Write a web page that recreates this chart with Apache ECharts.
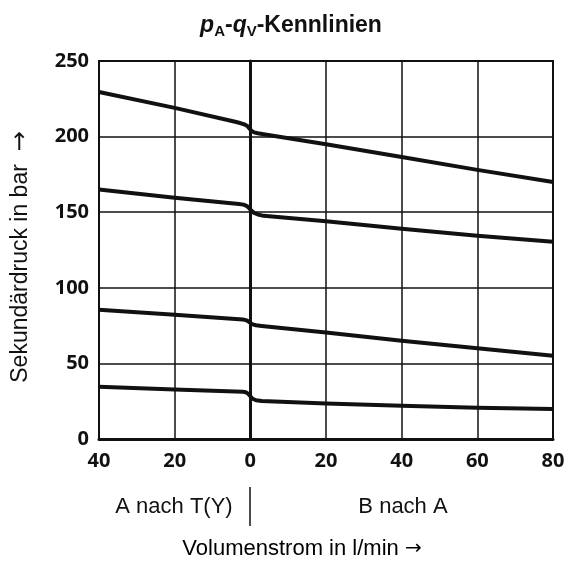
<!DOCTYPE html>
<html>
<head>
<meta charset="utf-8">
<script src="https://cdn.jsdelivr.net/npm/echarts@6/dist/echarts.min.js"></script>
<style>
  html, body { margin: 0; padding: 0; background: #fff; }
  #chart { width: 568px; height: 563px; }
</style>
</head>
<body>
<div id="chart"></div>
<script>
// Kennlinien-Daten (x: Volumenstrom, negativ = A nach T(Y))
var curve1X = [-40, -20, -4, -2.5, -1.5, -0.8, -0.3, 0.3, 1, 2, 3.5, 20, 40, 60, 80];
var curve1Y = [229.5, 219, 209.8, 208.8, 208, 207, 205.5, 203.8, 202.8, 202.2, 201.6, 195, 186.5, 178, 170];
var curve2X = [-40, -20, -3, -1.8, -1, -0.4, 0.2, 1, 2, 3.5, 20, 40, 60, 80];
var curve2Y = [165, 159.5, 155.4, 155, 154.2, 153, 151.2, 149.5, 148.5, 147.6, 144, 139, 134.5, 130.5];
var curve3X = [-40, -20, -2, -1.2, -0.6, 0, 0.6, 1.5, 3, 20, 40, 60, 80];
var curve3Y = [85.5, 82.2, 79, 78.6, 78, 76.8, 75.8, 75.2, 74.8, 70.5, 65, 60, 55];
var curve4X = [-40, -20, -2, -1.2, -0.6, 0, 0.6, 1.5, 3, 20, 40, 60, 80];
var curve4Y = [34.6, 32.8, 31.3, 30.9, 30, 28.3, 26.6, 25.6, 25.2, 23.5, 22, 20.7, 19.8];

var fontBold = '"Open Sans", "Liberation Sans", sans-serif';
var fontReg = '"Liberation Sans", Arial, sans-serif';
var fontArrow = '"DejaVu Sans", sans-serif';

function zip(xs, ys) {
  return xs.map(function (x, i) { return [x, ys[i]]; });
}

function makeLine(xs, ys) {
  return {
    type: 'line',
    data: zip(xs, ys),
    symbol: 'none',
    smooth: false,
    lineStyle: { color: '#111', width: 4, join: 'round', cap: 'butt' },
    z: 5
  };
}

var chart = echarts.init(document.getElementById('chart'));

var option = {
  animation: false,
  title: {
    left: 286,
    top: 8,
    textAlign: 'center',
    text: '{i|p}{s|A}{b|-}{i|q}{s|V}{b|-Kennlinien}',
    textStyle: {
      rich: {
        i: { fontFamily: fontReg, fontSize: 23, fontWeight: 'bold', fontStyle: 'italic', color: '#111' },
        b: { fontFamily: fontReg, fontSize: 23, fontWeight: 'bold', color: '#111' },
        s: { fontFamily: fontReg, fontSize: 15, fontWeight: 'bold', color: '#111', verticalAlign: 'bottom', padding: [11, 0, 0, 0] }
      }
    }
  },
  grid: {
    left: 99, right: 15, top: 61, bottom: 124,
    show: true,
    borderColor: '#111',
    borderWidth: 2
  },
  xAxis: {
    type: 'value',
    min: -40, max: 80, interval: 20,
    axisLine: { show: true, onZero: false, lineStyle: { color: '#111', width: 3 } },
    axisTick: { show: false },
    splitLine: { show: true, lineStyle: { color: '#111', width: 1.5 } },
    axisLabel: {
      margin: 12,
      color: '#111',
      fontFamily: fontBold,
      fontWeight: 'bold',
      fontSize: 20,
      formatter: function (v) { return String(Math.abs(v)); }
    }
  },
  yAxis: {
    type: 'value',
    min: 0, max: 250, interval: 50,
    name: '{t|Sekundärdruck in bar  }{a|→}',
    nameLocation: 'middle',
    nameGap: 66,
    nameTextStyle: {
      padding: [0, 14, 0, 0],
      rich: {
        t: { fontFamily: fontReg, fontSize: 23, color: '#111' },
        a: { fontFamily: fontArrow, fontSize: 24, color: '#111' }
      }
    },
    axisLine: { show: true, lineStyle: { color: '#111', width: 3 } },
    axisTick: { show: false },
    splitLine: { show: true, lineStyle: { color: '#111', width: 1.5 } },
    axisLabel: {
      margin: 10,
      color: '#111',
      fontFamily: fontBold,
      fontWeight: 'bold',
      fontSize: 20
    }
  },
  graphic: [
    {
      type: 'text', x: 174, y: 507,
      style: { text: 'A nach T(Y)', fill: '#111', font: '22px ' + fontReg, align: 'center', verticalAlign: 'middle' }
    },
    {
      type: 'line',
      shape: { x1: 250, y1: 487, x2: 250, y2: 526 },
      style: { stroke: '#111', lineWidth: 1.5 }
    },
    {
      type: 'text', x: 302, y: 549,
      style: {
        text: '{t|Volumenstrom in l/min }{a|→}',
        rich: {
          t: { fontFamily: fontReg, fontSize: 22, color: '#111' },
          a: { fontFamily: fontArrow, fontSize: 20, color: '#111' }
        },
        align: 'center', verticalAlign: 'middle'
      }
    },
    {
      type: 'text', x: 403, y: 507,
      style: { text: 'B nach A', fill: '#111', font: '22px ' + fontReg, align: 'center', verticalAlign: 'middle' }
    }
  ],
  series: [
    makeLine(curve1X, curve1Y),
    makeLine(curve2X, curve2Y),
    makeLine(curve3X, curve3Y),
    makeLine(curve4X, curve4Y)
  ]
};

chart.setOption(option);
</script>
</body>
</html>
